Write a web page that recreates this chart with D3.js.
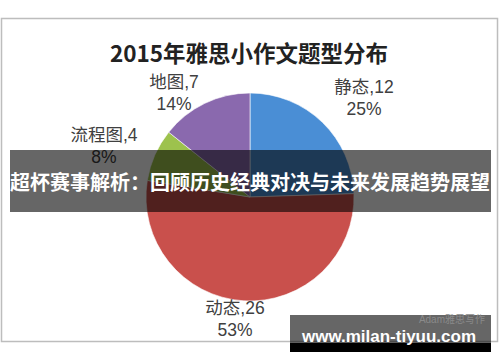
<!DOCTYPE html>
<html>
<head>
<meta charset="utf-8">
<script src="https://cdn.jsdelivr.net/npm/d3@7"></script>
<style>
  body { margin: 0; background: #fff; }
  svg { display: block; }
</style>
</head>
<body>
<svg id="chart" width="500" height="362"></svg>
<script>
// chart data
const categories = ["静态", "动态", "流程图", "地图"];
const counts = [12, 26, 4, 7];
const percents = ["25%", "53%", "8%", "14%"];
const colors = ["#4a8ed5", "#c9504c", "#9dc24d", "#8a69ae"];

// label anchor positions (picture coords) for each slice label
const labelPos = [[364, 87], [235, 308], [104, 135], [174, 82]];

const svg = d3.select("#chart");

// outer frame
svg.append("rect")
    .attr("x", 1.5).attr("y", 18.5)
    .attr("width", 496).attr("height", 323)
    .attr("fill", "#fff")
    .attr("stroke", "#bdbdbd")
    .attr("stroke-width", 1.5);

svg.append("text")
    .attr("x", 249).attr("y", 62)
    .attr("text-anchor", "middle")
    .attr("font-family", "'Noto Sans CJK SC', 'Open Sans', sans-serif")
    .attr("font-weight", "bold")
    .attr("font-size", 22.5)
    .attr("fill", "#222")
    .text("2015年雅思小作文题型分布");

const cx = 250, cy = 197, r = 104;

const pie = d3.pie().sort(null).value(d => d)(counts);
const arc = d3.arc().innerRadius(0).outerRadius(r);

const g = svg.append("g").attr("transform", `translate(${cx},${cy})`);
g.selectAll("path")
    .data(pie)
    .enter()
    .append("path")
    .attr("d", arc)
    .attr("fill", (d, i) => colors[i])
    .attr("stroke", "#fff")
    .attr("stroke-width", 0.6);

const labels = svg.append("g")
    .attr("font-family", "'Liberation Sans', 'Noto Sans CJK SC', sans-serif")
    .attr("font-size", 17.5)
    .attr("fill", "#404040")
    .attr("text-anchor", "middle");

categories.forEach((c, i) => {
    const t = labels.append("text")
        .attr("x", labelPos[i][0])
        .attr("y", labelPos[i][1]);
    t.append("tspan").attr("x", labelPos[i][0]).attr("dy", "0.35em")
        .text(c + "," + counts[i]);
    t.append("tspan").attr("x", labelPos[i][0]).attr("dy", 22)
        .text(percents[i]);
});

// banner overlay
svg.append("rect")
    .attr("x", 10).attr("y", 150)
    .attr("width", 481).attr("height", 62)
    .attr("fill", "rgba(0,0,0,0.6)");

svg.append("text")
    .attr("x", 250).attr("y", 190)
    .attr("text-anchor", "middle")
    .attr("font-family", "'Noto Sans CJK SC', sans-serif")
    .attr("font-weight", "bold")
    .attr("font-size", 20)
    .attr("fill", "#fff")
    .text("超杯赛事解析：回顾历史经典对决与未来发展趋势展望");

// site watermark
svg.append("rect")
    .attr("x", 290).attr("y", 315)
    .attr("width", 201).attr("height", 28)
    .attr("fill", "rgba(0,0,0,0.6)");
svg.append("rect")
    .attr("x", 290).attr("y", 343)
    .attr("width", 201).attr("height", 9)
    .attr("fill", "#000");

svg.append("text")
    .attr("x", 485).attr("y", 323)
    .attr("text-anchor", "end")
    .attr("font-family", "'Liberation Sans', 'Noto Sans CJK SC', sans-serif")
    .attr("font-size", 10)
    .attr("fill", "#8a8a8a")
    .text("Adam雅思写作");

svg.append("text")
    .attr("x", 389).attr("y", 342)
    .attr("text-anchor", "middle")
    .attr("font-family", "'Liberation Sans', 'DejaVu Sans', sans-serif")
    .attr("font-weight", "bold")
    .attr("font-size", 17)
    .attr("fill", "#fff")
    .text("www.milan-tiyuu.com");
</script>
</body>
</html>
